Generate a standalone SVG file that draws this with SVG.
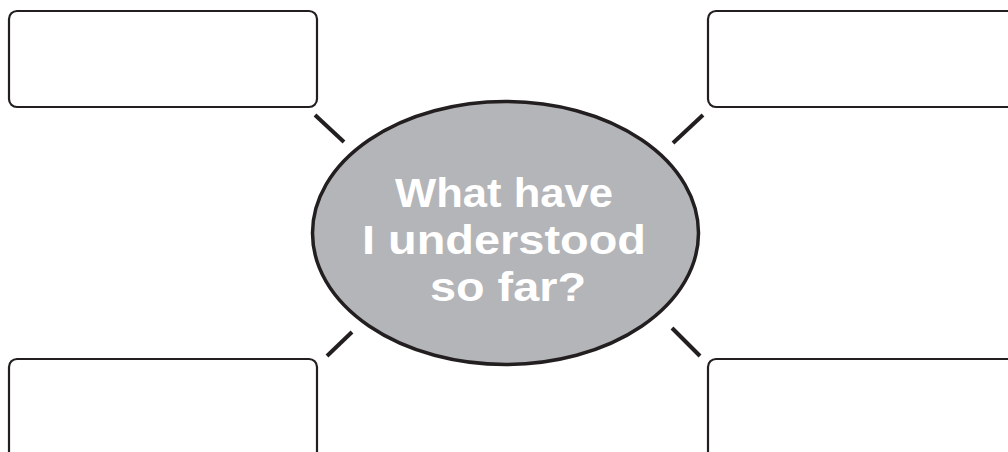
<svg xmlns="http://www.w3.org/2000/svg" width="1008" height="452" viewBox="0 0 1008 452">
  <style>
    .box { fill: #ffffff; stroke: #231f20; stroke-width: 2.2; }
    .conn { stroke: #231f20; stroke-width: 4; stroke-linecap: butt; fill: none; }
    .title { font-family: "Liberation Sans", Arial, sans-serif; font-weight: bold; font-size: 41px; fill: #ffffff; text-anchor: middle; }
  </style>
  <rect width="1008" height="452" fill="#ffffff"/>
  <g id="connectors">
    <line class="conn" x1="315" y1="115" x2="344" y2="142"/>
    <line class="conn" x1="703" y1="115" x2="673" y2="143"/>
    <line class="conn" x1="352" y1="332" x2="327" y2="356"/>
    <line class="conn" x1="672" y1="328" x2="700" y2="356"/>
  </g>
  <g id="box-top-left">
    <rect class="box" x="9" y="11" width="308" height="96" rx="8"/>
  </g>
  <g id="box-top-right">
    <rect class="box" x="708" y="11" width="320" height="96" rx="8"/>
  </g>
  <g id="box-bottom-left">
    <rect class="box" x="9" y="359" width="308" height="110" rx="8"/>
  </g>
  <g id="box-bottom-right">
    <rect class="box" x="708" y="359" width="320" height="110" rx="8"/>
  </g>
  <g id="center">
    <ellipse cx="505.5" cy="233" rx="193" ry="131.5" fill="#b4b5b8" stroke="#231f20" stroke-width="3.5"/>
    <text class="title" x="504" y="207" textLength="218" lengthAdjust="spacingAndGlyphs">What have</text>
    <text class="title" x="504" y="254" textLength="284" lengthAdjust="spacingAndGlyphs">I understood</text>
    <text class="title" x="508" y="301" textLength="156" lengthAdjust="spacingAndGlyphs">so far?</text>
  </g>
</svg>
